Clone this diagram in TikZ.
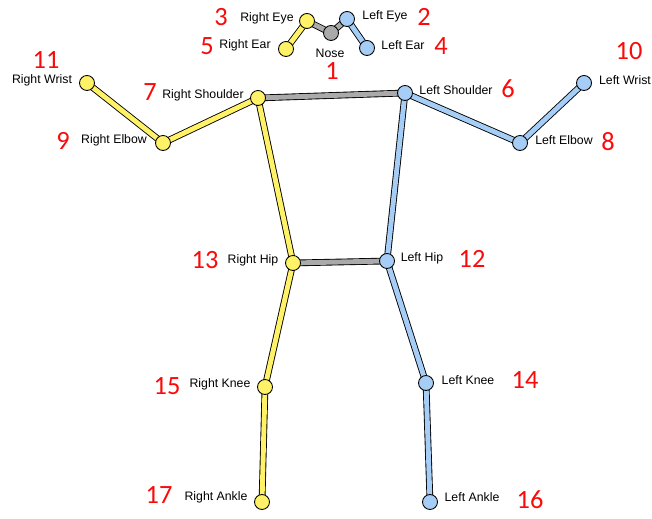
\documentclass[tikz,border=0pt]{standalone}
\usepackage{fontspec}
\setmainfont{Liberation Sans}
\newfontfamily\numfont{Carlito}
\usetikzlibrary{positioning, backgrounds}
\usepackage{xcolor}
\definecolor{jyellow}{RGB}{255,242,102}
\definecolor{jblue}{RGB}{165,205,245}
\definecolor{jgrey}{RGB}{170,170,170}
\definecolor{nred}{RGB}{250,10,10}

\begin{document}
\begin{tikzpicture}[x=0.02cm, y=-0.02cm,
  joint/.style={circle, draw=black, line width=0.5pt, inner sep=0pt, minimum size=0.3cm},
  bone/.style={draw=black, line width=0.5pt, double=#1, double distance=2.8pt},
  lbl/.style={font=\fontsize{7}{8}\selectfont, inner sep=0pt},
  num/.style={text=nred, font=\numfont\fontsize{15}{16}\selectfont, inner sep=0pt}]
  \useasboundingbox (0,0) rectangle (652,519);
  % joints
  \foreach \n/\x/\y/\c in {nose/331/33/jgrey, reye/307/21/jyellow, leye/347/19/jblue,
      rear/286/49/jyellow, lear/367/48/jblue,
      rsho/258/98/jyellow, lsho/405/93/jblue, relb/163/143/jyellow, lelb/520/143/jblue,
      rwri/87/83/jyellow, lwri/584/83/jblue, rhip/293/263/jyellow, lhip/387/261/jblue,
      rkne/265/387/jyellow, lkne/426/383/jblue, rank/262/502/jyellow, lank/430/502/jblue}{
    \node[joint, fill=\c] (\n) at (\x,\y) {};
  }
  % bones
  \begin{scope}[on background layer]
    \foreach \a/\b/\c in {nose/reye/jgrey, nose/leye/jgrey, reye/rear/jyellow, leye/lear/jblue,
        rsho/lsho/jgrey, rsho/relb/jyellow, relb/rwri/jyellow, lsho/lelb/jblue, lelb/lwri/jblue,
        rsho/rhip/jyellow, lsho/lhip/jblue, rhip/lhip/jgrey, rhip/rkne/jyellow, rkne/rank/jyellow,
        lhip/lkne/jblue, lkne/lank/jblue}{
      \draw[bone=\c] (\a.center) -- (\b.center);
    }
  \end{scope}
  % names
  \foreach \n/\x/\y/\t in {tnose/330/53/Nose, treye/267/18/Right Eye, tleye/385/16/Left Eye,
      trear/245/45/Right Ear, tlear/403/45/Left Ear, trsho/203/95/Right Shoulder,
      tlsho/456/90/Left Shoulder, trelb/114/140/Right Elbow, tlelb/564/140/Left Elbow,
      trwri/42/80/Right Wrist, tlwri/625/80/Left Wrist, trhip/253/260/Right Hip,
      tlhip/422/258/Left Hip, trkne/220/384/Right Knee, tlkne/468/380/Left Knee,
      trank/216/497/Right Ankle, tlank/472/497/Left Ankle}{
    \node[lbl] (\n) at (\x,\y) {\t};
  }
  % indices
  \foreach \n/\x/\y/\t in {n1/332/71/1, n2/424/17/2, n3/221/17/3, n4/441/46/4, n5/207/46/5,
      n6/508/89/6, n7/150/92/7, n8/608/142/8, n9/63/141/9, n10/629/51/10, n11/46/60/11,
      n12/472/259/12, n13/205/260/13, n14/525/380/14, n15/167/386/15, n16/530/500/16,
      n17/159/495/17}{
    \node[num] (\n) at (\x,\y) {\t};
  }
\end{tikzpicture}
\end{document}
